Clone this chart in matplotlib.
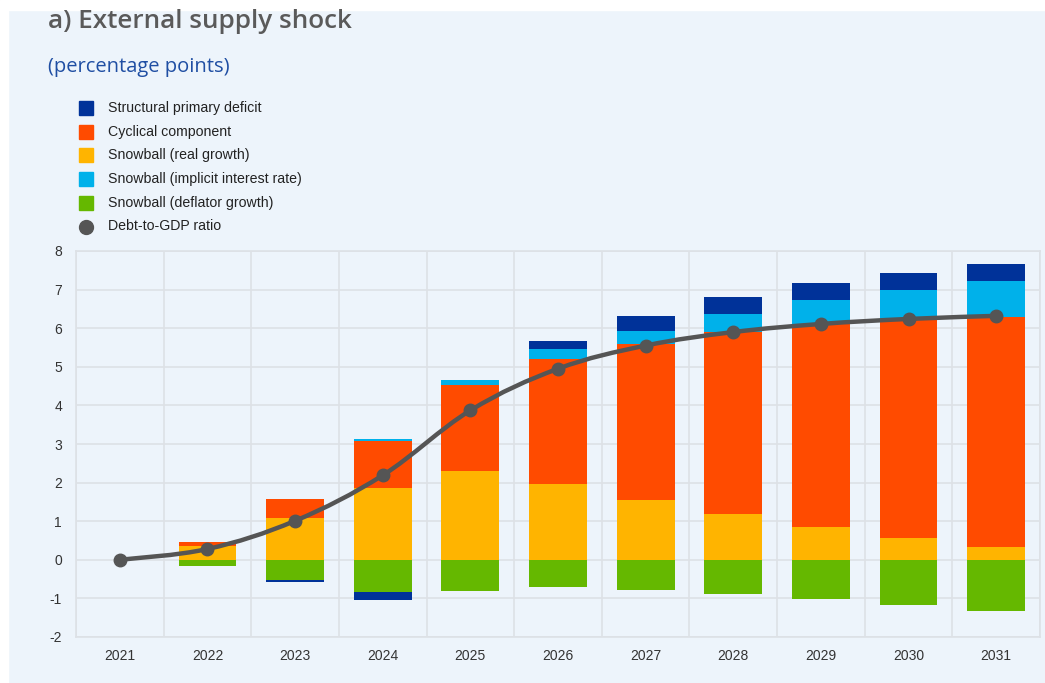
import numpy as np
import matplotlib.pyplot as plt
from matplotlib.path import Path
from matplotlib.patches import PathPatch, Rectangle
from matplotlib.lines import Line2D

# ==========================================
# Data (percentage points)
# ==========================================
years = ['2021', '2022', '2023', '2024', '2025', '2026', '2027', '2028', '2029', '2030', '2031']

real_growth = [0.0, 0.35, 1.08, 1.85, 2.30, 1.96, 1.55, 1.18, 0.86, 0.56, 0.34]
cyclical = [0.0, 0.11, 0.49, 1.24, 2.22, 3.25, 4.04, 4.72, 5.24, 5.68, 5.95]
interest_rate = [0.0, 0.0, 0.0, 0.05, 0.15, 0.24, 0.35, 0.47, 0.64, 0.75, 0.94]
deflator = [0.0, -0.15, -0.52, -0.83, -0.80, -0.70, -0.77, -0.88, -1.02, -1.18, -1.32]
structural = [0.0, 0.0, -0.06, -0.22, 0.0, 0.22, 0.38, 0.44, 0.43, 0.44, 0.43]
debt_ratio = [0.0, 0.28, 1.01, 2.19, 3.87, 4.95, 5.55, 5.90, 6.11, 6.24, 6.32]

y_ticks = [-2, -1, 0, 1, 2, 3, 4, 5, 6, 7, 8]

BG = '#edf4fb'
GRID = '#dde1e6'
C_STRUCT = '#003299'
C_CYC = '#ff4b00'
C_REAL = '#ffb400'
C_INT = '#00b1ea'
C_DEFL = '#65b800'
C_DEBT = '#555555'


def smooth_path(xs, ys, k=0.25):
    # cubic bezier through the points (spline-like rendering of the line)
    verts = [(xs[0], ys[0])]
    codes = [Path.MOVETO]
    n = len(xs)
    for i in range(n - 1):
        x0, y0 = xs[max(i - 1, 0)], ys[max(i - 1, 0)]
        x1, y1 = xs[i], ys[i]
        x2, y2 = xs[i + 1], ys[i + 1]
        x3, y3 = xs[min(i + 2, n - 1)], ys[min(i + 2, n - 1)]
        c1 = (x1 + k * (x2 - x0) / 2, y1 + k * (y2 - y0) / 2)
        c2 = (x2 - k * (x3 - x1) / 2, y2 - k * (y3 - y1) / 2)
        verts += [c1, c2, (x2, y2)]
        codes += [Path.CURVE4, Path.CURVE4, Path.CURVE4]
    return Path(verts, codes)


fig = plt.figure(figsize=(10.45, 6.83), dpi=100)
fig.patch.set_facecolor(BG)
# white margins on the left and top like the screenshot
fig.add_artist(Rectangle((0, 0), 8 / 1045, 1, transform=fig.transFigure, color='white', zorder=0))
fig.add_artist(Rectangle((0, 1 - 10 / 683), 1, 10 / 683, transform=fig.transFigure, color='white', zorder=0))

ax = fig.add_axes([76 / 1045, 46 / 683, 964 / 1045, 386 / 683])
ax.set_facecolor(BG)

x = np.arange(len(years))
width = 0.66

series = [
    (real_growth, C_REAL),
    (cyclical, C_CYC),
    (interest_rate, C_INT),
    (deflator, C_DEFL),
    (structural, C_STRUCT),
]
pos_bottom = np.zeros(len(years))
neg_bottom = np.zeros(len(years))
for vals, col in series:
    v = np.array(vals)
    bottom = np.where(v >= 0, pos_bottom, neg_bottom)
    ax.bar(x, v, width, bottom=bottom, color=col, zorder=2, linewidth=0)
    pos_bottom += np.where(v >= 0, v, 0)
    neg_bottom += np.where(v < 0, v, 0)

ax.add_patch(PathPatch(smooth_path(list(x), debt_ratio, k=0.35), facecolor='none', edgecolor=C_DEBT,
                       lw=3.2, zorder=3, capstyle='round', joinstyle='round'))
ax.plot(x, debt_ratio, 'o', color=C_DEBT, ms=9, zorder=4)

ax.set_xlim(-0.5, len(years) - 0.5)
ax.set_ylim(-2, 8)
ax.set_yticks(y_ticks)
ax.set_yticklabels([str(t) for t in y_ticks])
ax.set_xticks(x)
ax.set_xticklabels(years)
ax.set_xticks(np.arange(-0.5, len(years), 1), minor=True)
ax.grid(True, axis='y', which='major', color=GRID, lw=1.2, zorder=0)
ax.grid(True, axis='x', which='minor', color=GRID, lw=1.2, zorder=0)
ax.tick_params(axis='both', which='both', length=0, labelsize=10, colors='#333333')
ax.tick_params(axis='x', pad=9)
ax.tick_params(axis='y', pad=10)
for lab in ax.get_xticklabels() + ax.get_yticklabels():
    lab.set_family('Liberation Sans')
for s in ax.spines.values():
    s.set_color(GRID)
    s.set_linewidth(1.2)

fig.text(48 / 1045, 1 - 21 / 683, 'a) External supply shock', fontsize=18.8, fontweight='semibold',
         color='#5a5a5a', family='Open Sans', va='center', ha='left')
fig.text(48 / 1045, 1 - 67 / 683, '(percentage points)', fontsize=14.5, color='#1f4ea3',
         family='Open Sans', va='center', ha='left')

legend_labels = ['Structural primary deficit', 'Cyclical component', 'Snowball (real growth)',
                 'Snowball (implicit interest rate)', 'Snowball (deflator growth)', 'Debt-to-GDP ratio']
legend_colors = [C_STRUCT, C_CYC, C_REAL, C_INT, C_DEFL, C_DEBT]
for i, (lab, col) in enumerate(zip(legend_labels, legend_colors)):
    yy = 1 - (108 + i * 23.7) / 683
    if i < 5:
        fig.add_artist(Rectangle((79 / 1045, yy - 7 / 683), 14 / 1045, 14 / 683,
                                 transform=fig.transFigure, color=col))
    else:
        fig.add_artist(Line2D([86 / 1045], [yy], marker='o', ms=10, color=col,
                              transform=fig.transFigure))
    fig.text(108 / 1045, yy, lab, fontsize=10.2, color='#222222', va='center', ha='left',
             family='Liberation Sans')

fig.savefig('out.png', dpi=100, facecolor=fig.get_facecolor())
